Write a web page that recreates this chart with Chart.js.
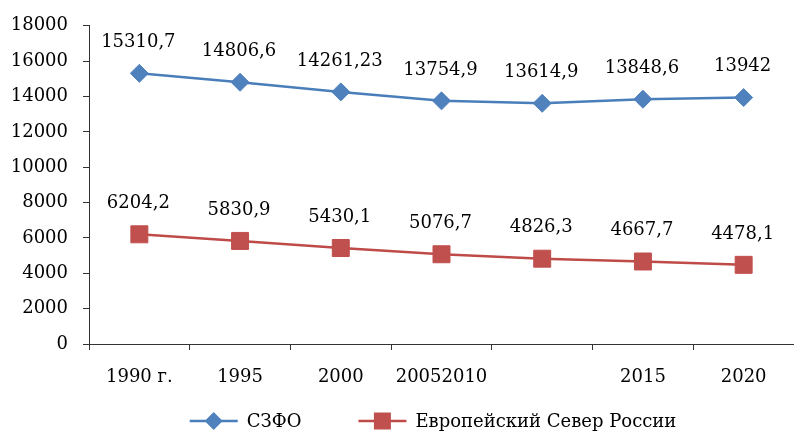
<!DOCTYPE html>
<html>
<head>
<meta charset="utf-8">
<script src="https://cdn.jsdelivr.net/npm/chart.js@4.4.1/dist/chart.umd.min.js"></script>
<style>
  html, body { margin: 0; padding: 0; background: #fff; overflow: hidden; }
</style>
</head>
<body>
<canvas id="lineChart" width="794" height="434"></canvas>
<script>
// Chart data
var years = ["1990 г.", "1995", "2000", "20052010", "", "2015", "2020"];
var szfoValues = [15310.7, 14806.6, 14261.23, 13754.9, 13614.9, 13848.6, 13942];
var northValues = [6204.2, 5830.9, 5430.1, 5076.7, 4826.3, 4667.7, 4478.1];
var seriesNames = ["СЗФО", "Европейский Север России"];

var FONT = "'DejaVu Serif', serif";

// Number label above each point, with a comma as decimal mark
var valueLabels = {
  id: "valueLabels",
  afterDatasetsDraw: function (chart) {
    var ctx = chart.ctx;
    ctx.save();
    ctx.font = "18px " + FONT;
    ctx.fillStyle = "#000";
    ctx.textAlign = "center";
    ctx.textBaseline = "middle";
    chart.data.datasets.forEach(function (ds, i) {
      chart.getDatasetMeta(i).data.forEach(function (pt, j) {
        var txt = String(ds.data[j]).replace(".", ",");
        ctx.fillText(txt, pt.x - 1, pt.y - 31);
      });
    });
    ctx.restore();
  }
};

// Legend drawn as line + marker like the original
var lineLegend = {
  id: "lineLegend",
  afterDraw: function (chart) {
    var ctx = chart.ctx;
    var y = 421;
    var lineLen = 48;
    var gap = 9;
    var itemGap = 57;
    ctx.save();
    ctx.font = "18px " + FONT;
    var widths = chart.data.datasets.map(function (ds) {
      return lineLen + gap + ctx.measureText(ds.label).width;
    });
    var total = widths[0] + itemGap + widths[1];
    var x = 433 - total / 2;
    chart.data.datasets.forEach(function (ds, i) {
      ctx.strokeStyle = ds.borderColor;
      ctx.lineWidth = 2.5;
      ctx.beginPath();
      ctx.moveTo(x, y);
      ctx.lineTo(x + lineLen, y);
      ctx.stroke();
      var cx = x + lineLen / 2;
      ctx.fillStyle = ds.pointBackgroundColor;
      ctx.beginPath();
      if (ds.pointStyle === "rectRot") {
        ctx.moveTo(cx, y - 9);
        ctx.lineTo(cx + 9, y);
        ctx.lineTo(cx, y + 9);
        ctx.lineTo(cx - 9, y);
        ctx.closePath();
      } else {
        ctx.rect(cx - 8.5, y - 8.5, 17, 17);
      }
      ctx.fill();
      ctx.fillStyle = "#000";
      ctx.textAlign = "left";
      ctx.textBaseline = "middle";
      ctx.fillText(ds.label, x + lineLen + gap, y + 1);
      x += widths[i] + itemGap;
    });
    ctx.restore();
  }
};

var ctx = document.getElementById("lineChart").getContext("2d");
var myLineChart = new Chart(ctx, {
  type: "line",
  data: {
    labels: years,
    datasets: [
      {
        label: seriesNames[0],
        data: szfoValues,
        borderColor: "#4A7EBB",
        borderWidth: 2.5,
        pointStyle: "rectRot",
        pointRadius: 9,
        pointBackgroundColor: "#4F81BD",
        pointBorderColor: "#4F81BD",
        pointBorderWidth: 1,
        tension: 0
      },
      {
        label: seriesNames[1],
        data: northValues,
        borderColor: "#BE4B48",
        borderWidth: 2.5,
        pointStyle: "rect",
        pointRadius: 12,
        pointBackgroundColor: "#C0504D",
        pointBorderColor: "#C0504D",
        pointBorderWidth: 1,
        tension: 0
      }
    ]
  },
  options: {
    responsive: false,
    animation: false,
    layout: { autoPadding: false, padding: { top: 22, left: 0, right: 0, bottom: 0 } },
    plugins: {
      legend: { display: false },
      tooltip: { enabled: false }
    },
    scales: {
      x: {
        offset: true,
        grid: { offset: true, drawOnChartArea: false, tickLength: 6, color: "#333" },
        border: { color: "#333", width: 1 },
        ticks: { color: "#000", font: { family: FONT, size: 18 }, padding: 17, maxRotation: 0, autoSkip: false },
        afterFit: function (scale) { scale.height = 90; }
      },
      y: {
        min: 0,
        max: 18000,
        grid: { drawOnChartArea: false, tickLength: 6, color: "#333" },
        border: { color: "#333", width: 1 },
        ticks: {
          stepSize: 2000,
          color: "#000",
          font: { family: FONT, size: 18 },
          padding: 15,
          callback: function (value) { return String(value); }
        },
        afterFit: function (scale) { scale.width = 89; }
      }
    }
  },
  plugins: [valueLabels, lineLegend]
});
</script>
</body>
</html>
